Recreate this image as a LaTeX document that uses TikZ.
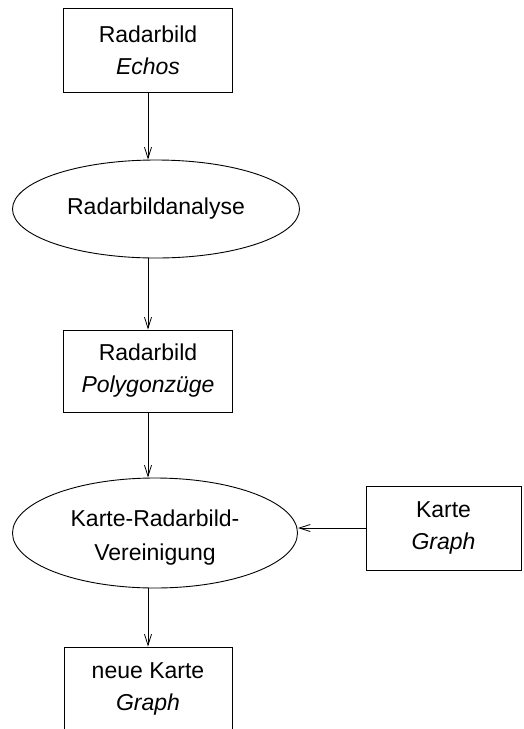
\documentclass[tikz,border=0pt]{standalone}
\usepackage{fontspec}
\setmainfont{Liberation Sans}
\usetikzlibrary{arrows.meta,shapes.geometric}
\begin{document}
\begin{tikzpicture}[x=1pt,y=-1pt,
  txt/.style={align=center,font=\fontsize{23}{32}\selectfont},
  box/.style={txt,draw,line width=0.9pt,rectangle,minimum width=169pt,minimum height=84pt,inner sep=0pt},
  oval/.style={txt,draw,ellipse,line width=0.9pt,inner sep=0pt},
  arr/.style={-{Straight Barb[length=11pt,width=7pt]},line width=0.8pt}]
\useasboundingbox (0,0) rectangle (524,729);
\clip (0,0) rectangle (524,729);
\node[box] (b1) at (148,50) {Radarbild\\\textit{Echos}};
\node[oval,minimum width=287pt,minimum height=98pt] (e1) at (156,209) {Radarbildanalyse};
\node[box,minimum height=82pt] (b2) at (148,371) {Radarbild\\\textit{Polygonzüge}};
\node[oval,minimum width=285pt,minimum height=110pt] (e2) at (155,533)
  {\raisebox{-10pt}[0pt][0pt]{\fontsize{23}{34}\selectfont\begin{tabular}{@{}c@{}}Karte-Radarbild-\\Vereinigung\end{tabular}}};
\node[box,minimum width=155pt] (k) at (443.5,528) {Karte\\\textit{Graph}};
\node[box,minimum width=168pt] (b3) at (148,689) {neue Karte\\\textit{Graph}};
\draw[arr] (b1.south) -- (b1.south |- e1.north);
\draw[arr] (b1.south |- e1.south) -- (b2.north);
\draw[arr] (b2.south) -- (b2.south |- e2.north);
\draw[arr] (k.west) -- (e2.east |- k.west);
\draw[arr] (b3.north |- e2.south) -- (b3.north);
\end{tikzpicture}
\end{document}
